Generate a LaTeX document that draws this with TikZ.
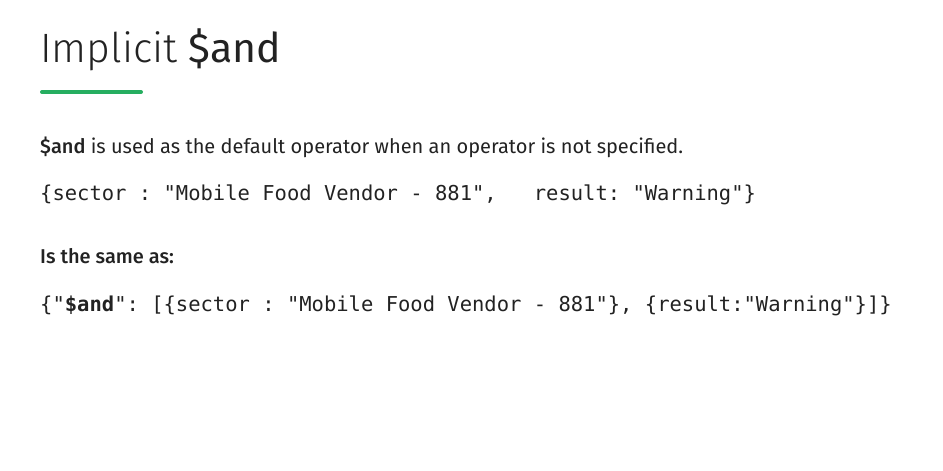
\documentclass[tikz,border=0pt]{standalone}
\usepackage{fontspec}
\setmainfont{Fira Sans}[BoldFont={Fira Sans Medium}]
\setmonofont{DejaVu Sans Mono}
\newfontfamily\titlelight{Fira Sans Light}
\usepackage{xcolor}
\usetikzlibrary{positioning}
\definecolor{inkgray}{RGB}{34,34,34}
\definecolor{rulegreen}{RGB}{38,174,96}

\begin{document}
\begin{tikzpicture}[x = 1pt, y = 1pt, every node/.style = {anchor = base west, inner sep = 0pt, text = inkgray}]
\useasboundingbox (0,0) rectangle (943,-471);
\node (title) [font = \fontsize{41}{48}\selectfont] at (40,-62) {{\titlelight Implicit} \$and};
\coordinate (ruleL) at (42,-92);
\coordinate (ruleR) at (141,-92);
\draw[rulegreen, line width = 4pt, line cap = round] (ruleL) -- (ruleR);
\node (intro) [font = \fontsize{20}{24}\selectfont] at (40,-153) {\textbf{\$and} is used as the default operator when an operator is not specified.};
\node (codeA) [font = \ttfamily\fontsize{20.5}{24}\selectfont] at (40,-200) {\{sector : "Mobile Food Vendor - 881",\ \ \ result: "Warning"\}};
\node (same) [font = \bfseries\fontsize{20}{24}\selectfont] at (40,-263) {Is the same as:};
\node (codeB) [font = \ttfamily\fontsize{20.5}{24}\selectfont] at (40,-311) {\{"\textbf{\$and}": [\{sector : "Mobile Food Vendor - 881"\}, \{result:"Warning"\}]\}};
\end{tikzpicture}
\end{document}
